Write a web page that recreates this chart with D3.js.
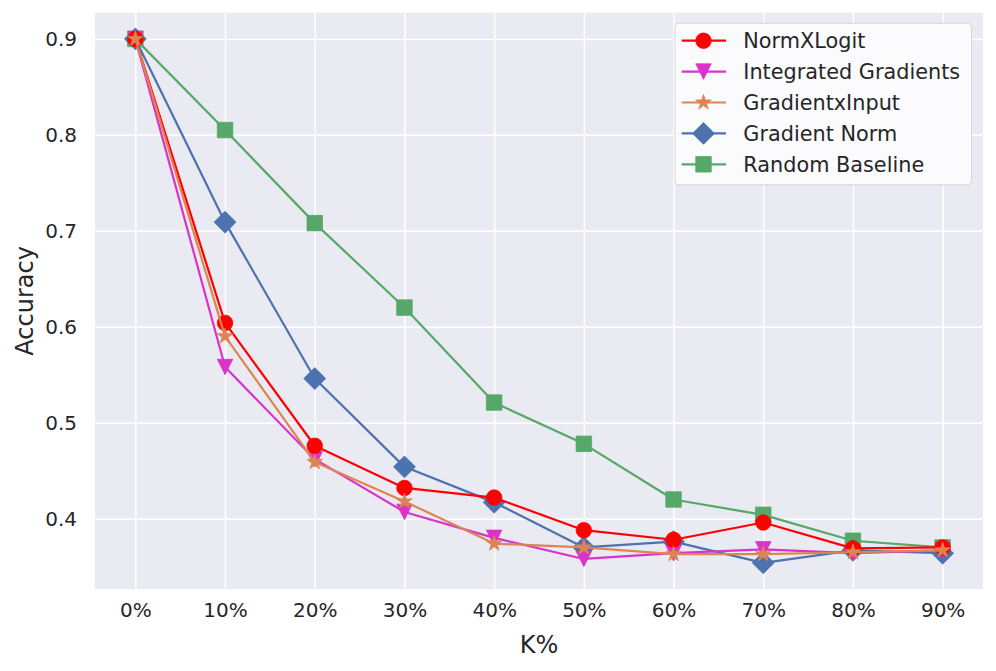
<!DOCTYPE html>
<html>
<head>
<meta charset="utf-8">
<script src="https://cdn.jsdelivr.net/npm/d3@7"></script>
<style>
  body { margin: 0; background: #fff; }
  text { font-family: "DejaVu Sans", sans-serif; fill: #262626; }
</style>
</head>
<body>
<script>
// chart values
let kLabels = ["0%", "10%", "20%", "30%", "40%", "50%", "60%", "70%", "80%", "90%"];
let normXLogit          = [0.900, 0.604, 0.476, 0.432, 0.422, 0.388, 0.378, 0.396, 0.369, 0.370];
let integratedGradients = [0.900, 0.558, 0.462, 0.407, 0.380, 0.358, 0.364, 0.368, 0.364, 0.367];
let gradientXInput      = [0.900, 0.590, 0.459, 0.418, 0.374, 0.370, 0.363, 0.363, 0.365, 0.367];
let gradientNorm        = [0.900, 0.709, 0.546, 0.454, 0.417, 0.370, 0.376, 0.354, 0.367, 0.364];
let randomBaseline      = [0.900, 0.805, 0.708, 0.620, 0.521, 0.478, 0.420, 0.404, 0.377, 0.370];
let yTicks = [0.4, 0.5, 0.6, 0.7, 0.8, 0.9];

// legend order
let series = [
  { name: "NormXLogit", values: normXLogit, color: "#ff0000", marker: "circle" },
  { name: "Integrated Gradients", values: integratedGradients, color: "#da33c8", marker: "triangleDown" },
  { name: "GradientxInput", values: gradientXInput, color: "#dd8452", marker: "star" },
  { name: "Gradient Norm", values: gradientNorm, color: "#4c72b0", marker: "diamond" },
  { name: "Random Baseline", values: randomBaseline, color: "#55a868", marker: "square" }
];
// drawing order (which marks sit on top)
let drawOrder = ["Random Baseline", "Gradient Norm", "Integrated Gradients", "NormXLogit", "GradientxInput"];

let w = 996, h = 671;
let plotL = 95, plotR = 983, plotT = 12.7, plotB = 589;
let ms = 15.5; // marker size in px

let svg = d3.select("body").append("svg").attr("width", w).attr("height", h);

// matplotlib-like 5% margins
let n = kLabels.length;
let xScale = d3.scaleLinear()
  .domain([-0.05 * (n - 1), (n - 1) * 1.05])
  .range([plotL, plotR]);

let allVals = series.flatMap(s => s.values);
let yMin = d3.min(allVals), yMax = d3.max(allVals);
let pad = (yMax - yMin) * 0.05;
let yScale = d3.scaleLinear()
  .domain([yMin - pad, yMax + pad])
  .range([plotB, plotT]);

// background
svg.append("rect")
  .attr("x", plotL).attr("y", plotT)
  .attr("width", plotR - plotL).attr("height", plotB - plotT)
  .style("fill", "#eaeaf2");

// grid + ticks via axes
let xAxis = d3.axisBottom(xScale)
  .tickValues(d3.range(n))
  .tickFormat(i => kLabels[i])
  .tickSize(-(plotB - plotT))
  .tickPadding(14);
let xAxisGroup = svg.append("g")
  .attr("transform", `translate(0, ${plotB})`)
  .call(xAxis);

let yAxis = d3.axisLeft(yScale)
  .tickValues(yTicks)
  .tickFormat(d3.format(".1f"))
  .tickSize(-(plotR - plotL))
  .tickPadding(18);
let yAxisGroup = svg.append("g")
  .attr("transform", `translate(${plotL}, 0)`)
  .call(yAxis);

[xAxisGroup, yAxisGroup].forEach(g => {
  g.select(".domain").remove();
  g.selectAll(".tick line").style("stroke", "#fff").style("stroke-width", 1.5);
  g.selectAll(".tick text").style("font-size", "20px").style("fill", "#262626")
    .style("font-family", "DejaVu Sans");
});

// axis labels
svg.append("text")
  .attr("x", (plotL + plotR) / 2).attr("y", 653)
  .attr("text-anchor", "middle")
  .style("font-size", "24px")
  .text("K%");
svg.append("text")
  .attr("transform", `translate(33, ${(plotT + plotB) / 2}) rotate(-90)`)
  .attr("text-anchor", "middle")
  .style("font-size", "24px")
  .text("Accuracy");

// marker shapes
function markerPath(type, size) {
  let r = size / 2;
  if (type === "circle") {
    return `M${r},0A${r},${r} 0 1,1 ${-r},0A${r},${r} 0 1,1 ${r},0Z`;
  }
  if (type === "square") {
    return `M${-r},${-r}H${r}V${r}H${-r}Z`;
  }
  if (type === "diamond") {
    let d = r * Math.SQRT2;
    return `M0,${-d}L${d},0L0,${d}L${-d},0Z`;
  }
  if (type === "triangleDown") {
    return `M0,${r}L${-r},${-r}L${r},${-r}Z`;
  }
  if (type === "star") {
    let pts = [];
    for (let i = 0; i < 10; i++) {
      let rad = i % 2 === 0 ? r * 1.05 : r * 1.05 * 0.381966;
      let a = -Math.PI / 2 + i * Math.PI / 5;
      pts.push([rad * Math.cos(a), rad * Math.sin(a)]);
    }
    return "M" + pts.map(p => p.join(",")).join("L") + "Z";
  }
}

let line = d3.line()
  .x((d, i) => xScale(i))
  .y(d => yScale(d));

let plot = svg.append("g");
drawOrder.forEach(name => {
  let s = series.find(d => d.name === name);
  let g = plot.append("g");
  g.append("path")
    .datum(s.values)
    .attr("d", line)
    .style("fill", "none")
    .style("stroke", s.color)
    .style("stroke-width", 2.2)
    .style("stroke-linejoin", "round");
  g.selectAll(".mk")
    .data(s.values)
    .enter()
    .append("path")
    .classed("mk", true)
    .attr("transform", (d, i) => `translate(${xScale(i)}, ${yScale(d)})`)
    .attr("d", markerPath(s.marker, ms))
    .style("fill", s.color)
    .style("stroke", s.color)
    .style("stroke-width", 0.8);
});

// legend
let lg = svg.append("g");
lg.append("rect")
  .attr("x", 675).attr("y", 23.3)
  .attr("width", 296.5).attr("height", 161.5)
  .attr("rx", 4)
  .style("fill", "#fbfbfd")
  .style("stroke", "#d6d6d6")
  .style("stroke-width", 1);

let rowY = d3.scaleLinear().domain([0, 4]).range([40.7, 164.3]);
series.forEach((s, i) => {
  let y = rowY(i);
  lg.append("line")
    .attr("x1", 681.7).attr("x2", 726)
    .attr("y1", y).attr("y2", y)
    .style("stroke", s.color)
    .style("stroke-width", 2.2);
  lg.append("path")
    .attr("transform", `translate(703.5, ${y})`)
    .attr("d", markerPath(s.marker, ms))
    .style("fill", s.color)
    .style("stroke", s.color)
    .style("stroke-width", 0.8);
  lg.append("text")
    .attr("x", 743.3).attr("y", y)
    .attr("dy", "0.36em")
    .style("font-size", "20.8px")
    .text(s.name);
});
</script>
</body>
</html>
